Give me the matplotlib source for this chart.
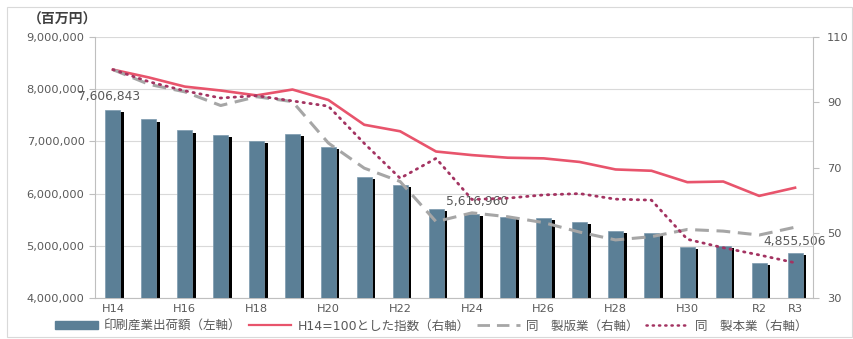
import matplotlib
matplotlib.use("Agg")
import matplotlib.pyplot as plt
from matplotlib.patches import Rectangle, Patch
from matplotlib.lines import Line2D
import numpy as np

plt.rcParams['font.family'] = ['DejaVu Sans', 'Noto Sans CJK JP']

# fiscal years H14 .. R3
years = ["H14", "H15", "H16", "H17", "H18", "H19", "H20", "H21", "H22", "H23",
         "H24", "H25", "H26", "H27", "H28", "H29", "H30", "R1", "R2", "R3"]
tick_labels = ["H14", "", "H16", "", "H18", "", "H20", "", "H22", "",
               "H24", "", "H26", "", "H28", "", "H30", "", "R2", "R3"]

# shipment value (million yen), left axis
shipments = [7606843, 7420000, 7210000, 7120000, 7000000, 7140000, 6900000,
             6320000, 6170000, 5700000, 5616960, 5550000, 5540000, 5456000,
             5280000, 5245000, 4980000, 5000000, 4665000, 4855506]
# indices with H14 = 100, right axis
idx_printing = [100, 97.6, 94.8, 93.6, 92.1, 93.9, 90.7, 83.1, 81.1, 74.9,
                73.8, 73.0, 72.8, 71.7, 69.4, 69.0, 65.5, 65.7, 61.3, 63.8]
idx_platemaking = [100, 95.5, 93.2, 89.0, 91.7, 90.2, 77.5, 69.8, 65.7, 53.4,
                   56.1, 54.9, 53.1, 50.2, 47.8, 48.8, 51.0, 50.5, 49.3, 51.7]
idx_binding = [100, 96.3, 93.5, 91.3, 92.0, 90.4, 88.8, 77.4, 66.7, 72.8,
               60.2, 60.6, 61.6, 62.0, 60.3, 60.0, 48.0, 45.4, 43.2, 40.8]
labelled = {0: "7,606,843", 10: "5,616,960", 19: "4,855,506"}

bar_color = "#5B7F96"
red = "#E8546C"
gray = "#A6A6A6"
maroon = "#A33361"
txt = "#595959"
grid = "#D9D9D9"

fig = plt.figure(figsize=(8.54, 3.39), dpi=100)
fig.patches.append(Rectangle((7/854, 2/339), 845/854, 330/339, transform=fig.transFigure,
                             fill=False, edgecolor="#D9D9D9", lw=0.8))
ax = fig.add_axes([95/854, 1 - 298/339, 718/854, 261/339])
ax2 = ax.twinx()

x = np.arange(len(years))
w = 0.42
# black drop shadow behind each bar
ax.bar(x + 0.1, np.array(shipments) - 40000, width=w, color="black", zorder=2)
ax.bar(x, shipments, width=w, color=bar_color, edgecolor="#7C9AAE", linewidth=0.5, zorder=3)

offsets = {0: (-0.1, 130000), 10: (0.15, 100000), 19: (0.0, 100000)}
for i, s in labelled.items():
    dx, dy = offsets[i]
    ax.text(i + dx, shipments[i] + dy, s, ha="center", va="bottom", fontsize=8.8, color=txt, zorder=5)

ax.set_ylim(4000000, 9000000)
ax.set_yticks(np.arange(4000000, 9000001, 1000000))
ax.yaxis.set_major_formatter(matplotlib.ticker.FuncFormatter(lambda v, p: f"{int(v):,}"))
ax.set_xlim(-0.5, len(years) - 0.5)
ax.set_xticks(x)
ax.set_xticklabels(tick_labels)
ax.grid(axis="y", color=grid, lw=0.8)
ax.set_axisbelow(True)

ax2.plot(x, idx_printing, color=red, lw=1.9, zorder=4)
ax2.plot(x, idx_platemaking, color=gray, lw=2.2, dashes=(4.5, 2.5), zorder=4)
ax2.plot(x, idx_binding, color=maroon, lw=2.0, linestyle=(0, (0.5, 2.0)), dash_capstyle="round", zorder=4)
ax2.set_ylim(30, 110)
ax2.set_yticks([30, 50, 70, 90, 110])

for a in (ax, ax2):
    for sp in a.spines.values():
        sp.set_visible(False)
    a.tick_params(colors=txt, labelsize=8.2, length=4, width=0.8)
    a.tick_params(axis="y", colors="#BFBFBF", labelcolor=txt)
ax.spines["left"].set_visible(True)
ax.spines["left"].set_color("#BFBFBF")
ax.spines["bottom"].set_visible(True)
ax.spines["bottom"].set_color("#BFBFBF")
ax2.spines["right"].set_visible(True)
ax2.spines["right"].set_color("#BFBFBF")
ax.tick_params(axis="x", length=0, pad=4)
ax2.tick_params(axis="y", pad=6)
# the line axis sits above the bars
ax.set_zorder(0)
ax2.set_zorder(1)
ax2.patch.set_visible(False)

fig.text(28/854, 1 - 20/339, "（百万円）", fontsize=10, color="#404040", fontweight="bold", va="center")

handles = [
    Patch(facecolor=bar_color, edgecolor=bar_color),
    Line2D([], [], color=red, lw=1.6),
    Line2D([], [], color=gray, lw=2.0, dashes=(4.5, 2.5)),
    Line2D([], [], color=maroon, lw=1.8, linestyle=(0, (0.5, 2.0)), dash_capstyle="round"),
]
names = ["印刷産業出荷額（左軸）", "H14=100とした指数（右軸）", "同　製版業（右軸）", "同　製本業（右軸）"]
fig.legend(handles, names, loc="center", bbox_to_anchor=(0.505, 1 - 326/339), ncol=4, frameon=False,
           prop={'family': ['DejaVu Sans', 'Noto Sans CJK JP'], 'size': 9},
           handlelength=3.4, handleheight=0.6, columnspacing=0.6, handletextpad=0.5,
           labelcolor=txt)

fig.savefig("out.png", dpi=100)
